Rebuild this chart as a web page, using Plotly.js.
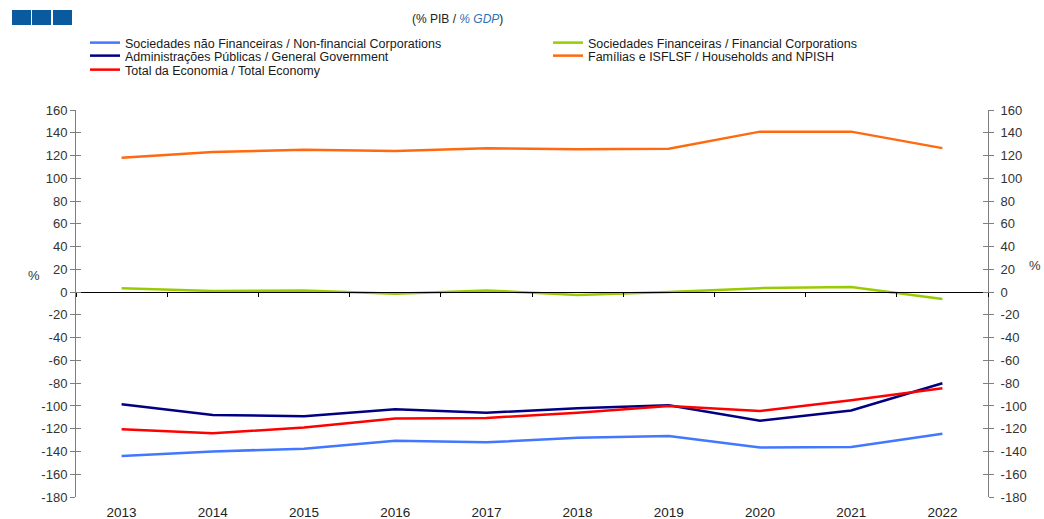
<!DOCTYPE html>
<html>
<head>
<meta charset="utf-8">
<script src="https://cdn.plot.ly/plotly-3.0.1.min.js"></script>
<style>
  html, body { margin: 0; padding: 0; background: #fff; }
  #chart { width: 1044px; height: 519px; }
</style>
</head>
<body>
<div id="chart"></div>
<script>
// data (% GDP)
const years = ["2013", "2014", "2015", "2016", "2017", "2018", "2019", "2020", "2021", "2022"];
const nonFinancial = [-144, -140, -137.5, -130.5, -132, -128, -126.5, -136.5, -136, -124.5];
const financial = [3.5, 1, 1.5, -1.5, 1.5, -2.5, 0, 3.5, 4.5, -6];
const government = [-98.5, -108, -109, -103, -106, -102, -99.5, -113, -104, -80];
const households = [118, 123, 125, 124, 126.5, 125.5, 126, 141, 141, 126.5];
const totalEconomy = [-120.5, -124, -119, -111, -110.5, -106, -100, -104.5, -95, -84.5];

const seriesNames = [
    "Sociedades não Financeiras / Non-financial Corporations",
    "Sociedades Financeiras / Financial Corporations",
    "Administrações Públicas / General Government",
    "Famílias e ISFLSF / Households and NPISH",
    "Total da Economia / Total Economy"
];
const yTicks = [160, 140, 120, 100, 80, 60, 40, 20, 0, -20, -40, -60, -80, -100, -120, -140, -160, -180];

// plot area in pixels
const L = 76, R = 988, T = 110, B = 497;
const px = x => (x - L) / (R - L);
const py = y => (B - y) / (B - T);

const font = "Liberation Sans, Arial, sans-serif";
const yRange = [-180, 160];

function line(name, y, color, legend) {
    return {
        x: years, y: y, name: name, type: "scatter", mode: "lines",
        line: { color: color, width: 2.5 },
        legend: legend, hoverinfo: "skip"
    };
}

// invisible traces so the extra axes get drawn
function carrier(xa, ya) {
    return { x: years, y: financial, xaxis: xa, yaxis: ya, type: "scatter", mode: "lines",
             line: { width: 0 }, opacity: 0, showlegend: false, hoverinfo: "skip" };
}

const data = [
    carrier("x2", "y"),
    carrier("x", "y2"),
    carrier("x", "y3"),
    carrier("x", "y4"),
    line(seriesNames[0], nonFinancial, "#4277ff", "legend"),
    line(seriesNames[1], financial, "#99cc00", "legend2"),
    line(seriesNames[2], government, "#000080", "legend3"),
    line(seriesNames[3], households, "#ff6a10", "legend4"),
    line(seriesNames[4], totalEconomy, "#ff0000", "legend5")
];

function leg(x, y) {
    return {
        x: px(x), y: py(y), xanchor: "left", yanchor: "middle",
        bgcolor: "rgba(0,0,0,0)", borderwidth: 0,
        font: { family: font, size: 12.5, color: "#1a1a1a" }
    };
}

const yTickFont = { family: font, size: 13, color: "#333" };
const baseY = {
    range: yRange, tickvals: yTicks, ticktext: yTicks.map(String),
    showgrid: false, zeroline: false, showline: true,
    linecolor: "#7f7f7f", linewidth: 1, tickcolor: "#7f7f7f",
    ticklen: 5, fixedrange: true, tickfont: yTickFont
};

const layout = {
    width: 1044, height: 519,
    margin: { l: L, r: 1044 - R, t: T, b: 519 - B },
    paper_bgcolor: "#fff", plot_bgcolor: "rgba(0,0,0,0)",
    font: { family: font },
    xaxis: {
        type: "category", categoryarray: years, range: [-0.5, 9.5],
        showgrid: false, zeroline: false, showline: false, ticks: "",
        tickfont: { family: font, size: 13.5, color: "#222" },
        ticklabelstandoff: 5, fixedrange: true
    },
    xaxis2: {
        type: "category", categoryarray: years, range: [-0.5, 9.5],
        overlaying: "x", anchor: "free", position: (0 - yRange[0]) / (yRange[1] - yRange[0]),
        showgrid: false, zeroline: false, showline: true, linecolor: "#000", linewidth: 1,
        ticks: "outside", tickson: "boundaries", ticklen: 4, tickcolor: "#000",
        showticklabels: false, fixedrange: true
    },
    yaxis: Object.assign({}, baseY, { ticks: "outside", side: "left" }),
    yaxis2: Object.assign({}, baseY, { ticks: "outside", side: "right", overlaying: "y", anchor: "x", ticklabelstandoff: 4 }),
    yaxis3: Object.assign({}, baseY, { ticks: "inside", side: "left", overlaying: "y", anchor: "x", showticklabels: false }),
    yaxis4: Object.assign({}, baseY, { ticks: "inside", side: "right", overlaying: "y", anchor: "x", showticklabels: false }),
    showlegend: true,
    legend: leg(85, 43),
    legend2: leg(548, 43),
    legend3: leg(85, 56),
    legend4: leg(548, 56),
    legend5: leg(85, 70),
    annotations: [
        { text: "(% PIB / <i><span style='color:#2b73b9'>% GDP</span></i>)",
          xref: "paper", yref: "paper", x: px(457), y: py(19), yanchor: "middle", showarrow: false,
          font: { family: font, size: 12, color: "#222" } },
        { text: "%", xref: "paper", yref: "paper", x: px(26), y: py(275), yanchor: "middle", showarrow: false,
          font: { family: font, size: 13, color: "#333" } },
        { text: "%", xref: "paper", yref: "paper", x: px(1043), y: py(265), yanchor: "middle", showarrow: false,
          xanchor: "right", font: { family: font, size: 13, color: "#333" } }
    ],
    shapes: [[12, 31], [32, 51], [53, 72]].map(s => ({
        type: "rect", xref: "paper", yref: "paper",
        x0: px(s[0]), x1: px(s[1]), y0: py(25), y1: py(10),
        fillcolor: "#0b5aa0", line: { width: 0 }
    }))
};

Plotly.newPlot("chart", data, layout, { displayModeBar: false, staticPlot: true });
</script>
</body>
</html>
